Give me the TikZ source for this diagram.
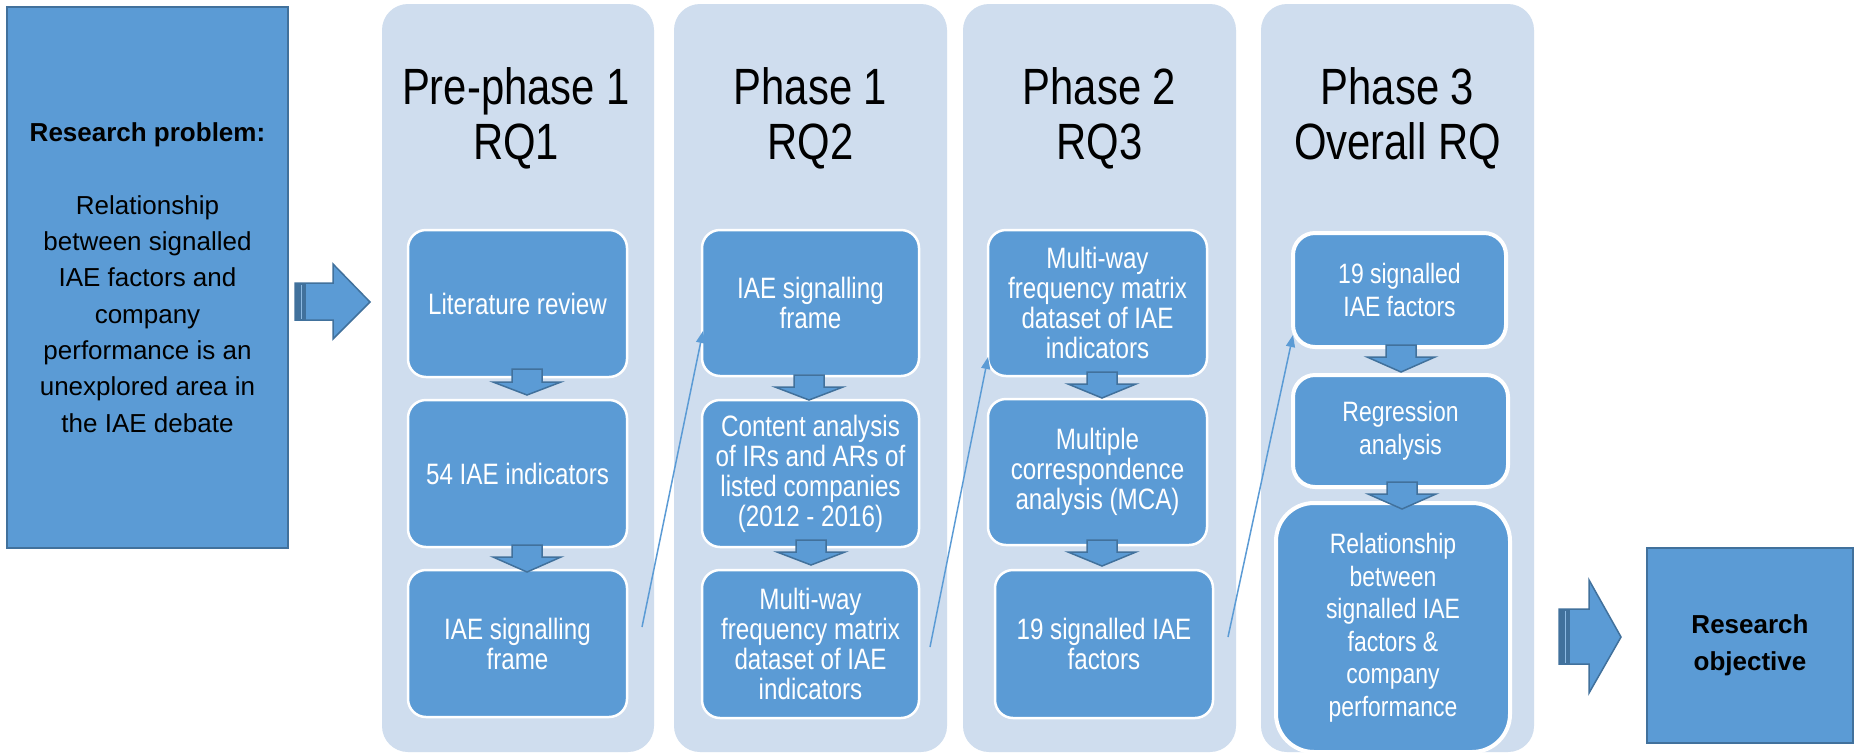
\documentclass[tikz,border=0pt]{standalone}
\usepackage{fontspec}
\setmainfont{Liberation Sans}
\newfontfamily\condfont{Liberation Sans}[FakeStretch=0.82]
\usetikzlibrary{arrows.meta}
\definecolor{boxblue}{HTML}{5B9BD5}
\definecolor{darkblue}{HTML}{41719C}
\definecolor{panelblue}{HTML}{CFDDEE}
\newcommand\downblock[4]{%
  \draw[blockarrow] ({#1-15},#2) -- ({#1+15},#2) -- ({#1+15},#3) -- ({#1+34},#3) -- (#1,#4) -- ({#1-34},#3) -- ({#1-15},#3) -- cycle;}
\tikzset{
  panel/.style={fill=panelblue, rounded corners=26pt, inner sep=0pt},
  ibox/.style={fill=boxblue, draw=white, line width=2.5pt, rounded corners=18pt, text=white, align=center, inner sep=2pt, font=\condfont\fontsize{29.5}{30}\selectfont},
  iboxf/.style={ibox, line width=4pt, rounded corners=22pt, font=\condfont\fontsize{28}{32.5}\selectfont},
  ptitle/.style={align=center, inner sep=0pt, font=\condfont\fontsize{51}{55}\selectfont},
  outerbox/.style={fill=boxblue, draw=darkblue, line width=2pt, align=center, inner sep=2pt, font=\fontsize{26}{36.3}\selectfont},
  blockarrow/.style={fill=boxblue, draw=darkblue, line width=1.5pt, line join=miter},
  conn/.style={draw=boxblue, line width=1.5pt, -{Triangle[length=12pt,width=9pt]}},
}
\begin{document}
\begin{tikzpicture}[x=1pt,y=-1pt]
\useasboundingbox (0,0) rectangle (1859,753);
\fill[white] (0,0) rectangle (1859,753);

% panels
\node[panel, minimum width=272pt, minimum height=748pt] (p1) at (518,378) {};
\node[panel, minimum width=273pt, minimum height=748pt] (p2) at (810.5,378) {};
\node[panel, minimum width=273pt, minimum height=748pt] (p3) at (1099.5,378) {};
\node[panel, minimum width=273pt, minimum height=748pt] (p4) at (1397.5,378) {};

% titles
\node[ptitle] (t1) at (516,118) {Pre-phase 1\\RQ1};
\node[ptitle] (t2) at (810.5,118) {Phase 1\\RQ2};
\node[ptitle] (t3) at (1099.5,118) {Phase 2\\RQ3};
\node[ptitle] (t4) at (1397.5,118) {Phase 3\\Overall RQ};

% panel 1 boxes
\node[ibox, minimum width=219pt, minimum height=147pt] (b11) at (517.5,303.5) {Literature review};
\node[ibox, minimum width=219pt, minimum height=147pt] (b12) at (517.5,473.5) {54 IAE indicators};
\node[ibox, minimum width=219pt, minimum height=147pt] (b13) at (517.5,643.5) {IAE signalling\\frame};

% panel 2 boxes
\node[ibox, minimum width=217pt, minimum height=146pt] (b21) at (810.5,303) {IAE signalling\\frame};
\node[ibox, minimum width=217pt, minimum height=147pt] (b22) at (810.5,473.5) {Content analysis\\of IRs and ARs of\\listed companies\\(2012 - 2016)};
\node[ibox, minimum width=217pt, minimum height=148pt] (b23) at (810.5,644) {Multi-way\\frequency matrix\\dataset of IAE\\indicators};

% panel 3 boxes
\node[ibox, minimum width=219pt, minimum height=146pt] (b31) at (1097.5,303) {Multi-way\\frequency matrix\\dataset of IAE\\indicators};
\node[ibox, minimum width=219pt, minimum height=146pt] (b32) at (1097.5,472) {Multiple\\correspondence\\analysis (MCA)};
\node[ibox, minimum width=218pt, minimum height=148pt] (b33) at (1104,644) {19 signalled IAE\\factors};

% panel 4 boxes
\node[iboxf, minimum width=213pt, minimum height=114pt] (b41) at (1399.5,290) {19 signalled\\IAE factors};
\node[iboxf, minimum width=215pt, minimum height=112pt] (b42) at (1400.5,431) {Regression\\analysis};
\node[iboxf, rounded corners=38pt, minimum width=234pt, minimum height=249pt] (b43) at (1393,627.5) {Relationship\\between\\signalled IAE\\factors \&\\company\\performance};

% block arrows inside panels
\downblock{527}{369}{382}{395}
\downblock{527}{545}{557}{572}
\downblock{809}{375}{387}{400}
\downblock{811}{540}{552}{565}
\downblock{1102}{372}{384}{398}
\downblock{1102}{540}{552}{566}
\downblock{1401}{345}{357}{372}
\downblock{1402}{482}{494}{509}

% connectors between phases
\coordinate (c1s) at (642,627);
\coordinate (c1e) at (703,331);
\coordinate (c2s) at (930,647);
\coordinate (c2e) at (988,357);
\coordinate (c3s) at (1228,637);
\coordinate (c3e) at (1293,335);
\draw[conn] (c1s) -- (c1e);
\draw[conn] (c2s) -- (c2e);
\draw[conn] (c3s) -- (c3e);

% research problem box
\node[outerbox, minimum width=281pt, minimum height=541pt] (rp) at (147.5,277.5)
  {\textbf{Research problem:}\\[36.3pt]Relationship\\between signalled\\IAE factors and\\company\\performance is an\\unexplored area in\\the IAE debate};

% research objective box
\node[outerbox, minimum width=206pt, minimum height=195pt, font=\fontsize{26}{36.5}\selectfont] (ro) at (1750,645.5)
  {\textbf{Research}\\\textbf{objective}};

% left striped arrow
\draw[blockarrow] (295,283) -- (333,283) -- (333,264) -- (370,302) -- (333,339) -- (333,320) -- (295,320) -- cycle;
\fill[darkblue] (295,283) rectangle (306,320);
\draw[boxblue!70!white, line width=1pt] (301,284.5) -- (301,318.5);

% right striped arrow
\draw[blockarrow] (1559,609) -- (1589,609) -- (1589,580) -- (1621,637) -- (1589,693) -- (1589,664) -- (1559,664) -- cycle;
\fill[darkblue] (1559,609) rectangle (1570,664);
\draw[boxblue!70!white, line width=1pt] (1565,610.5) -- (1565,662.5);
\end{tikzpicture}
\end{document}
